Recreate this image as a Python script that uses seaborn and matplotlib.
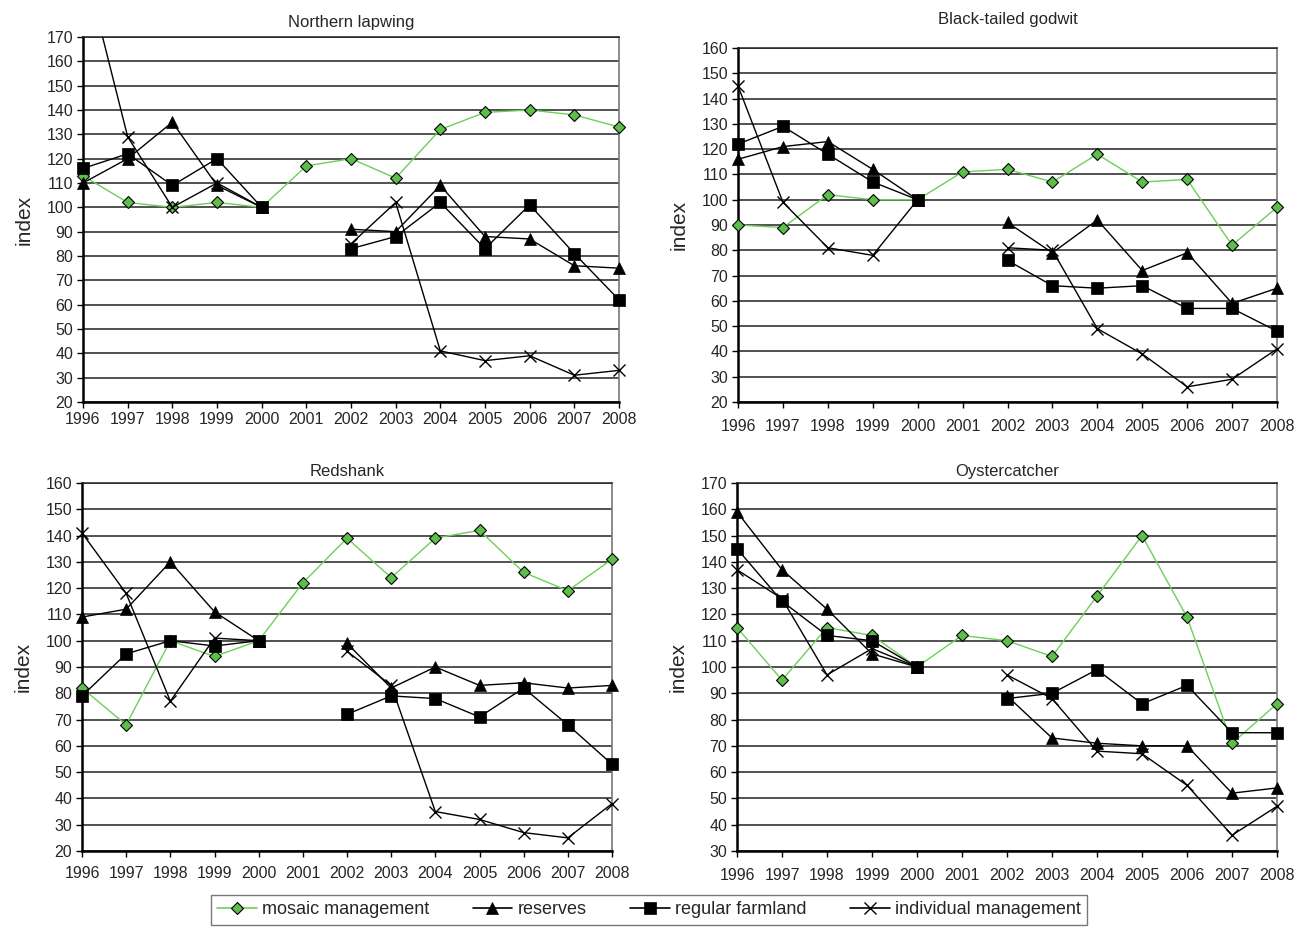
import numpy as np
import pandas as pd
import matplotlib.pyplot as plt
from matplotlib.lines import Line2D
import seaborn as sns

sns.set_theme(style="white")
plt.rcParams["font.family"] = ["Liberation Sans", "DejaVu Sans"]

years = list(range(1996, 2009))
nan = np.nan

# Northern lapwing
lapwing_mosaic = [113, 102, 100, 102, 100, 117, 120, 112, 132, 139, 140, 138, 133]
lapwing_reserves = [110, 120, 135, 109, 100, nan, 91, 90, 109, 88, 87, 76, 75]
lapwing_regular = [116, 122, 109, 120, 100, nan, 83, 88, 102, 83, 101, 81, 62]
lapwing_individual = [202, 129, 100, 110, 100, nan, 85, 102, 41, 37, 39, 31, 33]

# Black-tailed godwit
godwit_mosaic = [90, 89, 102, 100, 100, 111, 112, 107, 118, 107, 108, 82, 97]
godwit_reserves = [116, 121, 123, 112, 100, nan, 91, 79, 92, 72, 79, 59, 65]
godwit_regular = [122, 129, 118, 107, 100, nan, 76, 66, 65, 66, 57, 57, 48]
godwit_individual = [145, 99, 81, 78, 100, nan, 81, 80, 49, 39, 26, 29, 41]

# Redshank
redshank_mosaic = [82, 68, 100, 94, 100, 122, 139, 124, 139, 142, 126, 119, 131]
redshank_reserves = [109, 112, 130, 111, 100, nan, 99, 82, 90, 83, 84, 82, 83]
redshank_regular = [79, 95, 100, 98, 100, nan, 72, 79, 78, 71, 82, 68, 53]
redshank_individual = [141, 118, 77, 101, 100, nan, 96, 83, 35, 32, 27, 25, 38]

# Oystercatcher
oyster_mosaic = [115, 95, 115, 112, 100, 112, 110, 104, 127, 150, 119, 71, 86]
oyster_reserves = [159, 137, 122, 105, 100, nan, 89, 73, 71, 70, 70, 52, 54]
oyster_regular = [145, 125, 112, 110, 100, nan, 88, 90, 99, 86, 93, 75, 75]
oyster_individual = [137, 126, 97, 107, 100, nan, 97, 88, 68, 67, 55, 36, 47]

panels = [
    ("Northern lapwing", (20, 170), lapwing_mosaic, lapwing_reserves, lapwing_regular, lapwing_individual),
    ("Black-tailed godwit", (20, 160), godwit_mosaic, godwit_reserves, godwit_regular, godwit_individual),
    ("Redshank", (20, 160), redshank_mosaic, redshank_reserves, redshank_regular, redshank_individual),
    ("Oystercatcher", (30, 170), oyster_mosaic, oyster_reserves, oyster_regular, oyster_individual),
]

labels = ["mosaic management", "reserves", "regular farmland", "individual management"]
styles = {
    "mosaic management": dict(color="#6dcf5a", marker="D", ms=6.5, mfc="#5cbf4a", mec="black", mew=0.8, lw=1.0),
    "reserves": dict(color="black", marker="^", ms=9, mfc="black", mec="black", mew=0.5, lw=1.0),
    "regular farmland": dict(color="black", marker="s", ms=9, mfc="black", mec="black", mew=0.5, lw=1.0),
    "individual management": dict(color="black", marker="x", ms=9, mfc="black", mec="black", mew=1.0, lw=1.0),
}

positions = [
    [83 / 1315, 1 - 402 / 931, (619 - 83) / 1315, (402 - 37) / 931],
    [738 / 1315, 1 - 402 / 931, (1277 - 738) / 1315, (402 - 48) / 931],
    [82 / 1315, 1 - 851 / 931, (612 - 82) / 1315, (851 - 483) / 931],
    [737 / 1315, 1 - 851 / 931, (1277 - 737) / 1315, (851 - 483) / 931],
]
title_pads = [7, 17, 5, 5]
xtick_pads = [3, 8, 7, 8]

fig = plt.figure(figsize=(13.15, 9.31), dpi=100)

for pos, tpad, xpad, (title, ylim, *series) in zip(positions, title_pads, xtick_pads, panels):
    ax = fig.add_axes(pos)
    for label, values in zip(labels, series):
        st = styles[label]
        df = pd.DataFrame({"year": years, "index": values})
        # split into segments so missing years stay as gaps
        seg = df["index"].isna().cumsum()
        for _, part in df[df["index"].notna()].groupby(seg[df["index"].notna()]):
            sns.lineplot(data=part, x="year", y="index", ax=ax, color=st["color"], lw=st["lw"],
                         marker=st["marker"], markersize=st["ms"], markerfacecolor=st["mfc"],
                         markeredgecolor=st["mec"], markeredgewidth=st["mew"], zorder=3)
    # let edge markers show fully unless the line leaves the y range
    for line in ax.lines:
        yd = np.asarray(line.get_ydata(), dtype=float)
        if yd.size and yd.max() <= ylim[1] and yd.min() >= ylim[0]:
            line.set_clip_on(False)
    ax.set_xlim(1996, 2008)
    ax.set_ylim(*ylim)
    ax.set_xticks(years)
    ax.set_yticks(np.arange(ylim[0], ylim[1] + 1, 10))
    ax.yaxis.grid(True, color="#222222", lw=1.1)
    ax.xaxis.grid(False)
    ax.set_axisbelow(True)
    for side in ["left", "bottom"]:
        ax.spines[side].set_color("black")
        ax.spines[side].set_linewidth(1.8)
    ax.spines["right"].set_color("#777777")
    ax.spines["right"].set_linewidth(1.2)
    ax.spines["top"].set_color("#222222")
    ax.spines["top"].set_linewidth(1.1)
    ax.tick_params(axis="both", which="major", direction="out", length=4, width=1, color="black",
                   labelsize=11.5, bottom=True, left=True, pad=3)
    ax.tick_params(axis="x", pad=xpad)
    ax.set_xlabel("")
    ax.set_ylabel("index", fontsize=15, labelpad=9)
    ax.set_title(title, fontsize=12, pad=tpad)

handles = [
    Line2D([0], [0], color=styles[l]["color"], lw=1.2, marker=styles[l]["marker"],
           markersize=styles[l]["ms"] * 0.9, markerfacecolor=styles[l]["mfc"],
           markeredgecolor=styles[l]["mec"], markeredgewidth=styles[l]["mew"])
    for l in labels
]
leg = fig.legend(handles, labels, loc="lower center", bbox_to_anchor=(0.4935, -0.003), ncol=4,
                 fontsize=13, frameon=True, fancybox=False, edgecolor="#555555",
                 handlelength=2.2, handletextpad=0.3, columnspacing=2.4, borderpad=0.35)
leg.get_frame().set_linewidth(1.0)

fig.savefig("out.png", dpi=100)
